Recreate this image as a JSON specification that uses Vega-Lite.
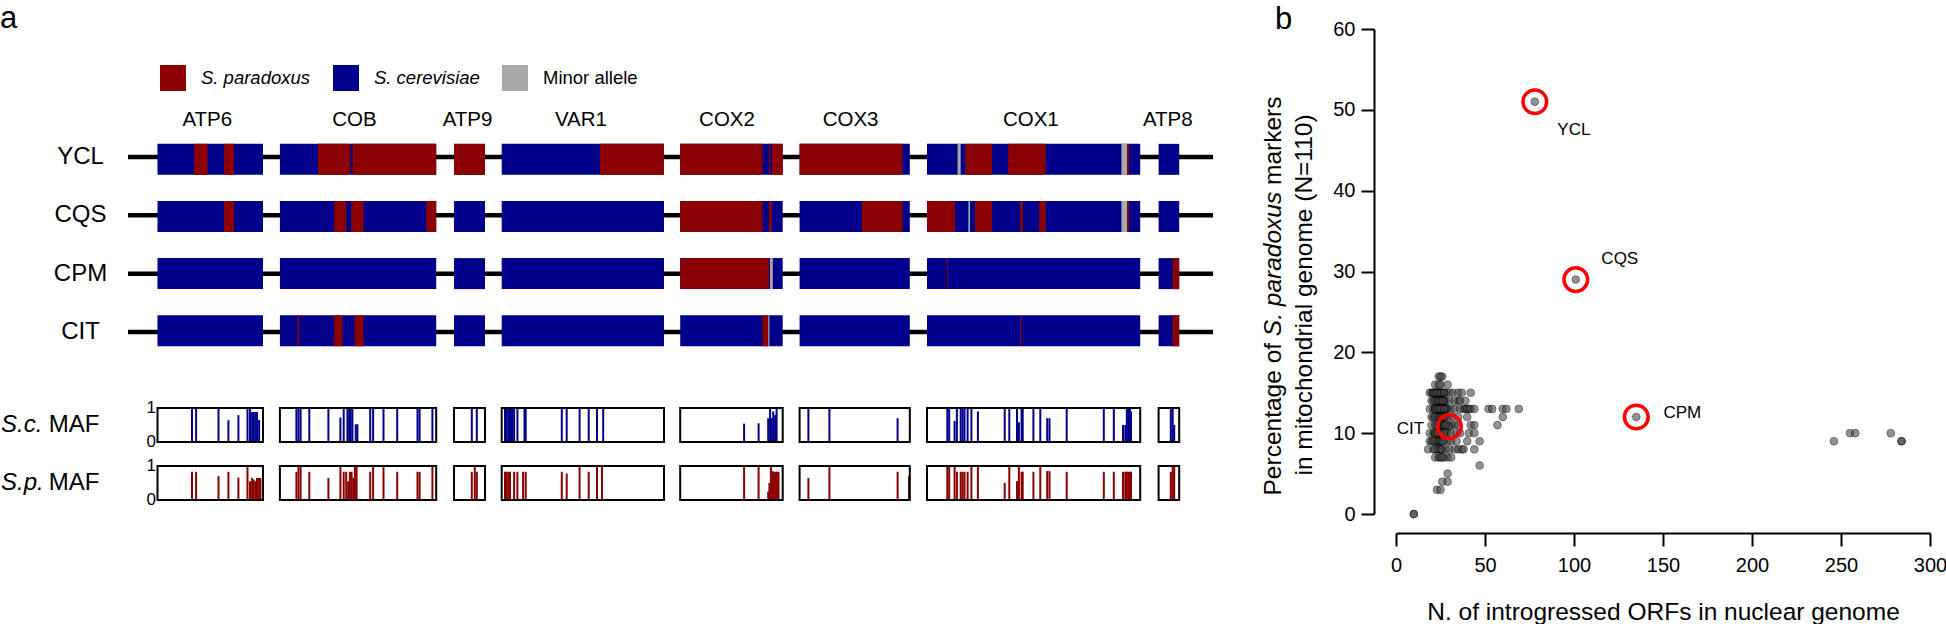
{
  "$schema": "https://vega.github.io/schema/vega-lite/v6.json",
  "padding": {"left": 0, "top": 3, "right": 0, "bottom": 0},
  "background": "white",
  "bounds": "flush",
  "spacing": 156,
  "config": {
    "font": "Liberation Sans",
    "view": {"stroke": null},
    "text": {"font": "Liberation Sans", "color": "black"}
  },
  "datasets": {
    "strains": [
      {"strain": "YCL", "row": 0}, {"strain": "CQS", "row": 1}, {"strain": "CPM", "row": 2}, {"strain": "CIT", "row": 3}
    ],
    "genes": [
      {"gene": "ATP6", "start": 2.95, "end": 13.5, "mid": 7.93},
      {"gene": "COB", "start": 15.19, "end": 30.82, "mid": 22.65},
      {"gene": "ATP9", "start": 32.6, "end": 35.7, "mid": 33.95},
      {"gene": "VAR1", "start": 37.37, "end": 53.6, "mid": 45.29},
      {"gene": "COX2", "start": 55.22, "end": 65.47, "mid": 59.9},
      {"gene": "COX3", "start": 67.16, "end": 78.18, "mid": 72.26},
      {"gene": "COX1", "start": 79.9, "end": 101.22, "mid": 90.28},
      {"gene": "ATP8", "start": 103.06, "end": 105.12, "mid": 103.98}
    ],
    "base": [
      {"row": 0, "start": 2.95, "end": 13.5}, {"row": 0, "start": 15.19, "end": 30.82}, {"row": 0, "start": 32.6, "end": 35.7}, {"row": 0, "start": 37.37, "end": 53.6},
      {"row": 0, "start": 55.22, "end": 65.47}, {"row": 0, "start": 67.16, "end": 78.18}, {"row": 0, "start": 79.9, "end": 101.22}, {"row": 0, "start": 103.06, "end": 105.12},
      {"row": 1, "start": 2.95, "end": 13.5}, {"row": 1, "start": 15.19, "end": 30.82}, {"row": 1, "start": 32.6, "end": 35.7}, {"row": 1, "start": 37.37, "end": 53.6},
      {"row": 1, "start": 55.22, "end": 65.47}, {"row": 1, "start": 67.16, "end": 78.18}, {"row": 1, "start": 79.9, "end": 101.22}, {"row": 1, "start": 103.06, "end": 105.12},
      {"row": 2, "start": 2.95, "end": 13.5}, {"row": 2, "start": 15.19, "end": 30.82}, {"row": 2, "start": 32.6, "end": 35.7}, {"row": 2, "start": 37.37, "end": 53.6},
      {"row": 2, "start": 55.22, "end": 65.47}, {"row": 2, "start": 67.16, "end": 78.18}, {"row": 2, "start": 79.9, "end": 101.22}, {"row": 2, "start": 103.06, "end": 105.12},
      {"row": 3, "start": 2.95, "end": 13.5}, {"row": 3, "start": 15.19, "end": 30.82}, {"row": 3, "start": 32.6, "end": 35.7}, {"row": 3, "start": 37.37, "end": 53.6},
      {"row": 3, "start": 55.22, "end": 65.47}, {"row": 3, "start": 67.16, "end": 78.18}, {"row": 3, "start": 79.9, "end": 101.22}, {"row": 3, "start": 103.06, "end": 105.12}
    ],
    "segments": [
      {"row": 0, "start": 6.6, "end": 7.97, "allele": "S. paradoxus"},
      {"row": 0, "start": 9.6, "end": 10.6, "allele": "S. paradoxus"},
      {"row": 0, "start": 19.0, "end": 22.23, "allele": "S. paradoxus"},
      {"row": 0, "start": 22.44, "end": 30.82, "allele": "S. paradoxus"},
      {"row": 0, "start": 32.6, "end": 35.7, "allele": "S. paradoxus"},
      {"row": 0, "start": 47.2, "end": 53.6, "allele": "S. paradoxus"},
      {"row": 0, "start": 55.22, "end": 63.45, "allele": "S. paradoxus"},
      {"row": 0, "start": 64.1, "end": 64.25, "allele": "S. paradoxus"},
      {"row": 0, "start": 64.4, "end": 65.47, "allele": "S. paradoxus"},
      {"row": 0, "start": 67.16, "end": 77.45, "allele": "S. paradoxus"},
      {"row": 0, "start": 82.96, "end": 83.27, "allele": "Minor allele"},
      {"row": 0, "start": 83.73, "end": 86.41, "allele": "S. paradoxus"},
      {"row": 0, "start": 88.02, "end": 91.77, "allele": "S. paradoxus"},
      {"row": 0, "start": 99.34, "end": 99.92, "allele": "Minor allele"},
      {"row": 0, "start": 99.92, "end": 100.11, "allele": "S. paradoxus"},
      {"row": 1, "start": 9.6, "end": 10.6, "allele": "S. paradoxus"},
      {"row": 1, "start": 20.62, "end": 21.82, "allele": "S. paradoxus"},
      {"row": 1, "start": 22.32, "end": 23.56, "allele": "S. paradoxus"},
      {"row": 1, "start": 29.82, "end": 30.82, "allele": "S. paradoxus"},
      {"row": 1, "start": 55.22, "end": 63.45, "allele": "S. paradoxus"},
      {"row": 1, "start": 64.1, "end": 64.4, "allele": "S. paradoxus"},
      {"row": 1, "start": 73.4, "end": 77.45, "allele": "S. paradoxus"},
      {"row": 1, "start": 79.9, "end": 82.7, "allele": "S. paradoxus"},
      {"row": 1, "start": 84.04, "end": 84.2, "allele": "Minor allele"},
      {"row": 1, "start": 84.69, "end": 86.41, "allele": "S. paradoxus"},
      {"row": 1, "start": 89.2, "end": 89.47, "allele": "S. paradoxus"},
      {"row": 1, "start": 91.12, "end": 91.77, "allele": "S. paradoxus"},
      {"row": 1, "start": 99.34, "end": 99.92, "allele": "Minor allele"},
      {"row": 1, "start": 99.92, "end": 100.11, "allele": "S. paradoxus"},
      {"row": 2, "start": 55.22, "end": 64.1, "allele": "S. paradoxus"},
      {"row": 2, "start": 64.2, "end": 64.48, "allele": "Minor allele"},
      {"row": 2, "start": 81.89, "end": 82.0, "allele": "S. paradoxus"},
      {"row": 2, "start": 104.47, "end": 105.12, "allele": "S. paradoxus"},
      {"row": 3, "start": 16.97, "end": 17.13, "allele": "S. paradoxus"},
      {"row": 3, "start": 20.62, "end": 21.45, "allele": "S. paradoxus"},
      {"row": 3, "start": 22.65, "end": 23.56, "allele": "S. paradoxus"},
      {"row": 3, "start": 63.45, "end": 64.02, "allele": "S. paradoxus"},
      {"row": 3, "start": 64.02, "end": 64.14, "allele": "Minor allele"},
      {"row": 3, "start": 89.2, "end": 89.32, "allele": "S. paradoxus"},
      {"row": 3, "start": 104.47, "end": 105.12, "allele": "S. paradoxus"}
    ],
    "maf_sc": [
      {"pos": 6.4, "maf": 1}, {"pos": 6.81, "maf": 1}, {"pos": 9.05, "maf": 1}, {"pos": 10.04, "maf": 0.64}, {"pos": 11.04, "maf": 0.79}, {"pos": 11.95, "maf": 1},
      {"pos": 12.2, "maf": 1}, {"pos": 12.41, "maf": 0.88}, {"pos": 12.57, "maf": 0.88}, {"pos": 12.74, "maf": 0.88}, {"pos": 12.9, "maf": 0.88}, {"pos": 13.11, "maf": 0.65},
      {"pos": 16.84, "maf": 1}, {"pos": 17.05, "maf": 1}, {"pos": 17.26, "maf": 1}, {"pos": 18.13, "maf": 1}, {"pos": 20.04, "maf": 1}, {"pos": 21.24, "maf": 0.72},
      {"pos": 21.57, "maf": 1}, {"pos": 21.94, "maf": 1}, {"pos": 22.11, "maf": 1}, {"pos": 22.27, "maf": 1}, {"pos": 22.44, "maf": 1}, {"pos": 22.77, "maf": 0.52},
      {"pos": 22.94, "maf": 0.52}, {"pos": 24.22, "maf": 1}, {"pos": 24.51, "maf": 1}, {"pos": 25.55, "maf": 1}, {"pos": 26.92, "maf": 1}, {"pos": 28.95, "maf": 1},
      {"pos": 29.16, "maf": 1}, {"pos": 30.44, "maf": 1},
      {"pos": 34.38, "maf": 1}, {"pos": 34.88, "maf": 1},
      {"pos": 37.7, "maf": 1}, {"pos": 37.86, "maf": 1}, {"pos": 38.03, "maf": 1}, {"pos": 38.2, "maf": 1}, {"pos": 38.4, "maf": 1}, {"pos": 38.61, "maf": 1},
      {"pos": 38.94, "maf": 1}, {"pos": 39.65, "maf": 1}, {"pos": 39.77, "maf": 1}, {"pos": 43.38, "maf": 1}, {"pos": 43.87, "maf": 1}, {"pos": 45.16, "maf": 1},
      {"pos": 46.07, "maf": 1}, {"pos": 46.9, "maf": 1}, {"pos": 47.52, "maf": 1},
      {"pos": 61.61, "maf": 0.54}, {"pos": 63.06, "maf": 0.55}, {"pos": 64.02, "maf": 0.7}, {"pos": 64.21, "maf": 1}, {"pos": 64.36, "maf": 0.7}, {"pos": 64.52, "maf": 0.9},
      {"pos": 64.71, "maf": 0.8}, {"pos": 64.86, "maf": 1},
      {"pos": 68.04, "maf": 1}, {"pos": 70.14, "maf": 1}, {"pos": 76.96, "maf": 0.7},
      {"pos": 81.93, "maf": 1}, {"pos": 82.12, "maf": 1}, {"pos": 82.66, "maf": 0.62}, {"pos": 82.89, "maf": 1}, {"pos": 83.27, "maf": 1}, {"pos": 83.46, "maf": 1},
      {"pos": 83.65, "maf": 1}, {"pos": 83.96, "maf": 1}, {"pos": 84.34, "maf": 1}, {"pos": 84.99, "maf": 0.9}, {"pos": 87.67, "maf": 1}, {"pos": 88.13, "maf": 1},
      {"pos": 88.9, "maf": 1}, {"pos": 89.09, "maf": 0.58}, {"pos": 89.36, "maf": 1}, {"pos": 89.47, "maf": 1}, {"pos": 90.54, "maf": 1}, {"pos": 91.23, "maf": 1},
      {"pos": 91.92, "maf": 0.7}, {"pos": 92.15, "maf": 0.7}, {"pos": 93.87, "maf": 1}, {"pos": 97.58, "maf": 1}, {"pos": 98.58, "maf": 1}, {"pos": 99.5, "maf": 0.5},
      {"pos": 99.73, "maf": 0.5}, {"pos": 99.88, "maf": 1}, {"pos": 100.03, "maf": 1}, {"pos": 100.19, "maf": 1}, {"pos": 100.3, "maf": 0.9},
      {"pos": 104.28, "maf": 1}, {"pos": 104.47, "maf": 1}, {"pos": 104.62, "maf": 0.5}
    ],
    "maf_sp": [
      {"pos": 6.4, "maf": 0.83}, {"pos": 6.81, "maf": 0.83}, {"pos": 9.05, "maf": 0.7}, {"pos": 10.04, "maf": 0.83}, {"pos": 11.04, "maf": 0.66}, {"pos": 11.95, "maf": 1},
      {"pos": 12.2, "maf": 0.55}, {"pos": 12.41, "maf": 0.65}, {"pos": 12.57, "maf": 0.6}, {"pos": 12.74, "maf": 0.55}, {"pos": 12.9, "maf": 0.65}, {"pos": 13.11, "maf": 0.65},
      {"pos": 13.24, "maf": 0.65},
      {"pos": 16.84, "maf": 0.83}, {"pos": 17.05, "maf": 1}, {"pos": 17.26, "maf": 1}, {"pos": 18.13, "maf": 0.83}, {"pos": 20.04, "maf": 0.65}, {"pos": 21.24, "maf": 1},
      {"pos": 21.57, "maf": 0.83}, {"pos": 21.82, "maf": 0.83}, {"pos": 22.02, "maf": 0.55}, {"pos": 22.19, "maf": 0.83}, {"pos": 22.36, "maf": 0.83}, {"pos": 22.53, "maf": 0.65},
      {"pos": 22.69, "maf": 1}, {"pos": 22.86, "maf": 1}, {"pos": 24.22, "maf": 0.83}, {"pos": 24.51, "maf": 1}, {"pos": 25.55, "maf": 1}, {"pos": 26.92, "maf": 0.83},
      {"pos": 28.95, "maf": 0.83}, {"pos": 29.16, "maf": 0.83}, {"pos": 30.44, "maf": 1},
      {"pos": 34.38, "maf": 0.83}, {"pos": 34.68, "maf": 1}, {"pos": 34.88, "maf": 0.83},
      {"pos": 37.7, "maf": 0.83}, {"pos": 37.86, "maf": 0.83}, {"pos": 38.03, "maf": 0.83}, {"pos": 38.2, "maf": 0.83}, {"pos": 38.61, "maf": 0.83}, {"pos": 38.94, "maf": 0.83},
      {"pos": 39.51, "maf": 0.83}, {"pos": 39.77, "maf": 0.83}, {"pos": 43.38, "maf": 0.83}, {"pos": 43.87, "maf": 0.78}, {"pos": 45.16, "maf": 1}, {"pos": 46.07, "maf": 0.83},
      {"pos": 46.9, "maf": 1}, {"pos": 47.4, "maf": 1},
      {"pos": 61.61, "maf": 1}, {"pos": 63.06, "maf": 1}, {"pos": 64.02, "maf": 0.25}, {"pos": 64.14, "maf": 0.5}, {"pos": 64.29, "maf": 1}, {"pos": 64.44, "maf": 0.85},
      {"pos": 64.59, "maf": 0.83}, {"pos": 64.75, "maf": 0.83}, {"pos": 64.9, "maf": 0.83}, {"pos": 65.05, "maf": 0.83},
      {"pos": 68.04, "maf": 0.65}, {"pos": 70.14, "maf": 1}, {"pos": 76.96, "maf": 0.83}, {"pos": 78.1, "maf": 0.7},
      {"pos": 81.93, "maf": 1}, {"pos": 82.12, "maf": 1}, {"pos": 82.66, "maf": 1}, {"pos": 82.89, "maf": 0.83}, {"pos": 83.27, "maf": 0.83}, {"pos": 83.46, "maf": 0.83},
      {"pos": 83.65, "maf": 0.83}, {"pos": 83.96, "maf": 0.83}, {"pos": 84.34, "maf": 1}, {"pos": 84.99, "maf": 1}, {"pos": 87.67, "maf": 0.5}, {"pos": 88.13, "maf": 1},
      {"pos": 88.9, "maf": 0.55}, {"pos": 89.09, "maf": 1}, {"pos": 89.36, "maf": 0.83}, {"pos": 89.47, "maf": 0.83}, {"pos": 90.54, "maf": 0.83}, {"pos": 91.23, "maf": 1},
      {"pos": 91.92, "maf": 0.85}, {"pos": 92.15, "maf": 0.85}, {"pos": 93.87, "maf": 0.83}, {"pos": 97.58, "maf": 0.83}, {"pos": 98.58, "maf": 0.83}, {"pos": 99.5, "maf": 0.83},
      {"pos": 99.73, "maf": 0.83}, {"pos": 99.88, "maf": 0.83}, {"pos": 100.03, "maf": 0.83}, {"pos": 100.19, "maf": 0.83}, {"pos": 100.3, "maf": 0.83},
      {"pos": 104.28, "maf": 0.83}, {"pos": 104.47, "maf": 1}, {"pos": 104.62, "maf": 1}
    ],
    "ticks01": [{"v": 0}, {"v": 1}],
    "points": [
      {"orfs": 24, "pct": 17}, {"orfs": 26, "pct": 17}, {"orfs": 25, "pct": 17},
      {"orfs": 22, "pct": 16}, {"orfs": 25, "pct": 16}, {"orfs": 29, "pct": 16}, {"orfs": 24, "pct": 16},
      {"orfs": 19, "pct": 15}, {"orfs": 20, "pct": 15}, {"orfs": 21, "pct": 15}, {"orfs": 22, "pct": 15}, {"orfs": 23, "pct": 15}, {"orfs": 24, "pct": 15},
      {"orfs": 25, "pct": 15}, {"orfs": 26, "pct": 15}, {"orfs": 27, "pct": 15}, {"orfs": 28, "pct": 15}, {"orfs": 30, "pct": 15}, {"orfs": 32, "pct": 15},
      {"orfs": 35, "pct": 15}, {"orfs": 37, "pct": 15}, {"orfs": 42, "pct": 15}, {"orfs": 22, "pct": 15}, {"orfs": 24, "pct": 15}, {"orfs": 26, "pct": 15},
      {"orfs": 21, "pct": 15}, {"orfs": 23, "pct": 15}, {"orfs": 25, "pct": 15}, {"orfs": 27, "pct": 15},
      {"orfs": 20, "pct": 14}, {"orfs": 21, "pct": 14}, {"orfs": 23, "pct": 14}, {"orfs": 24, "pct": 14}, {"orfs": 25, "pct": 14}, {"orfs": 26, "pct": 14},
      {"orfs": 27, "pct": 14}, {"orfs": 28, "pct": 14}, {"orfs": 30, "pct": 14}, {"orfs": 33, "pct": 14}, {"orfs": 35, "pct": 14}, {"orfs": 36, "pct": 14},
      {"orfs": 39, "pct": 14}, {"orfs": 23, "pct": 14}, {"orfs": 25, "pct": 14}, {"orfs": 27, "pct": 14}, {"orfs": 22, "pct": 14}, {"orfs": 24, "pct": 14}, {"orfs": 26, "pct": 14},
      {"orfs": 19, "pct": 13}, {"orfs": 21, "pct": 13}, {"orfs": 22, "pct": 13}, {"orfs": 23, "pct": 13}, {"orfs": 24, "pct": 13}, {"orfs": 25, "pct": 13},
      {"orfs": 26, "pct": 13}, {"orfs": 27, "pct": 13}, {"orfs": 28, "pct": 13}, {"orfs": 29, "pct": 13}, {"orfs": 31, "pct": 13}, {"orfs": 33, "pct": 13},
      {"orfs": 36, "pct": 13}, {"orfs": 38, "pct": 13}, {"orfs": 39, "pct": 13}, {"orfs": 40, "pct": 13}, {"orfs": 41, "pct": 13}, {"orfs": 42, "pct": 13},
      {"orfs": 44, "pct": 13}, {"orfs": 52, "pct": 13}, {"orfs": 54, "pct": 13}, {"orfs": 60, "pct": 13}, {"orfs": 62, "pct": 13}, {"orfs": 69, "pct": 13},
      {"orfs": 22, "pct": 13}, {"orfs": 24, "pct": 13}, {"orfs": 26, "pct": 13}, {"orfs": 28, "pct": 13}, {"orfs": 23, "pct": 13}, {"orfs": 25, "pct": 13}, {"orfs": 27, "pct": 13},
      {"orfs": 20, "pct": 12}, {"orfs": 21, "pct": 12}, {"orfs": 23, "pct": 12}, {"orfs": 24, "pct": 12}, {"orfs": 25, "pct": 12}, {"orfs": 26, "pct": 12},
      {"orfs": 28, "pct": 12}, {"orfs": 30, "pct": 12}, {"orfs": 32, "pct": 12}, {"orfs": 35, "pct": 12}, {"orfs": 40, "pct": 12}, {"orfs": 60, "pct": 12},
      {"orfs": 24, "pct": 12}, {"orfs": 26, "pct": 12}, {"orfs": 22, "pct": 12}, {"orfs": 25, "pct": 12}, {"orfs": 27, "pct": 12},
      {"orfs": 20, "pct": 11}, {"orfs": 22, "pct": 11}, {"orfs": 24, "pct": 11}, {"orfs": 25, "pct": 11}, {"orfs": 26, "pct": 11}, {"orfs": 27, "pct": 11},
      {"orfs": 29, "pct": 11}, {"orfs": 31, "pct": 11}, {"orfs": 33, "pct": 11}, {"orfs": 35, "pct": 11}, {"orfs": 42, "pct": 11}, {"orfs": 44, "pct": 11},
      {"orfs": 57, "pct": 11}, {"orfs": 25, "pct": 11}, {"orfs": 27, "pct": 11}, {"orfs": 30, "pct": 10.8}, {"orfs": 23, "pct": 11}, {"orfs": 28, "pct": 11},
      {"orfs": 19, "pct": 10}, {"orfs": 21, "pct": 10}, {"orfs": 22, "pct": 10}, {"orfs": 24, "pct": 10}, {"orfs": 25, "pct": 10}, {"orfs": 26, "pct": 10},
      {"orfs": 28, "pct": 10}, {"orfs": 29, "pct": 10}, {"orfs": 31, "pct": 10}, {"orfs": 34, "pct": 10}, {"orfs": 36, "pct": 10}, {"orfs": 41, "pct": 10},
      {"orfs": 44, "pct": 10}, {"orfs": 22, "pct": 10}, {"orfs": 25, "pct": 10}, {"orfs": 23, "pct": 10}, {"orfs": 27, "pct": 10},
      {"orfs": 19, "pct": 9}, {"orfs": 20, "pct": 9}, {"orfs": 22, "pct": 9}, {"orfs": 23, "pct": 9}, {"orfs": 24, "pct": 9}, {"orfs": 25, "pct": 9},
      {"orfs": 27, "pct": 9}, {"orfs": 29, "pct": 9}, {"orfs": 31, "pct": 9}, {"orfs": 34, "pct": 9}, {"orfs": 40, "pct": 9}, {"orfs": 47, "pct": 9},
      {"orfs": 24, "pct": 9}, {"orfs": 21, "pct": 9}, {"orfs": 26, "pct": 9},
      {"orfs": 18, "pct": 8}, {"orfs": 21, "pct": 8}, {"orfs": 23, "pct": 8}, {"orfs": 24, "pct": 8}, {"orfs": 25, "pct": 8}, {"orfs": 26, "pct": 8},
      {"orfs": 28, "pct": 8}, {"orfs": 30, "pct": 8}, {"orfs": 33, "pct": 8}, {"orfs": 35, "pct": 8}, {"orfs": 37, "pct": 8}, {"orfs": 38, "pct": 8},
      {"orfs": 44, "pct": 8}, {"orfs": 25, "pct": 8}, {"orfs": 22, "pct": 8},
      {"orfs": 22, "pct": 7}, {"orfs": 24, "pct": 7}, {"orfs": 25, "pct": 7}, {"orfs": 27, "pct": 7}, {"orfs": 29, "pct": 7}, {"orfs": 31, "pct": 7}, {"orfs": 26, "pct": 7},
      {"orfs": 47, "pct": 6}, {"orfs": 29, "pct": 5}, {"orfs": 26, "pct": 4}, {"orfs": 29, "pct": 4}, {"orfs": 23, "pct": 3}, {"orfs": 25, "pct": 3},
      {"orfs": 10, "pct": 0}, {"orfs": 10, "pct": 0},
      {"orfs": 78, "pct": 51}, {"orfs": 101, "pct": 29}, {"orfs": 135, "pct": 12},
      {"orfs": 246, "pct": 9}, {"orfs": 255, "pct": 10}, {"orfs": 258, "pct": 10}, {"orfs": 278, "pct": 10}, {"orfs": 284, "pct": 9}, {"orfs": 284, "pct": 9}
    ],
    "highlight": [
      {"strain": "YCL", "orfs": 78, "pct": 51},
      {"strain": "CQS", "orfs": 101, "pct": 29},
      {"strain": "CPM", "orfs": 135, "pct": 12},
      {"strain": "CIT", "orfs": 30, "pct": 10.8}
    ]
  },
  "hconcat": [
    {
      "width": 1240,
      "height": 485,
      "resolve": {"scale": {"y": "independent"}},
      "layer": [
        {
          "data": {"name": "strains"},
          "mark": {"type": "rule", "strokeWidth": 4.5, "color": "black"},
          "encoding": {
            "x": {"datum": 0, "type": "quantitative", "scale": {"domain": [-12.8, 111.2], "nice": false, "zero": false}, "axis": null},
            "x2": {"datum": 108.5},
            "y": {"field": "row", "type": "quantitative", "scale": {"domain": [-2.194, 6.12], "reverse": true, "nice": false, "zero": false}, "axis": null}
          }
        },
        {
          "data": {"name": "base"},
          "mark": {"type": "bar", "orient": "horizontal", "size": 31},
          "encoding": {
            "x": {"field": "start", "type": "quantitative", "scale": {"domain": [-12.8, 111.2], "nice": false, "zero": false}, "axis": null},
            "x2": {"field": "end"},
            "y": {"field": "row", "type": "quantitative", "scale": {"domain": [-2.194, 6.12], "reverse": true, "nice": false, "zero": false}, "axis": null},
            "color": {
              "datum": "S. cerevisiae", "type": "nominal",
              "scale": {"domain": ["S. paradoxus", "S. cerevisiae", "Minor allele"], "range": ["#8b0000", "#00008b", "#a9a9a9"]},
              "legend": {"orient": "none", "legendX": 160, "legendY": 36, "direction": "horizontal", "title": null, "symbolType": "square", "symbolSize": 676, "symbolStrokeWidth": 0, "symbolOpacity": 1, "labelFontSize": 18.5, "labelFont": "Liberation Sans", "labelColor": "black", "labelOffset": 15, "columnPadding": 22, "padding": 0, "labelLimit": 0, "labelFontStyle": {"expr": "datum.label == 'Minor allele' ? 'normal' : 'italic'"}}
            }
          }
        },
        {
          "data": {"name": "segments"},
          "mark": {"type": "bar", "orient": "horizontal", "size": 31},
          "encoding": {
            "x": {"field": "start", "type": "quantitative", "scale": {"domain": [-12.8, 111.2], "nice": false, "zero": false}, "axis": null},
            "x2": {"field": "end"},
            "y": {"field": "row", "type": "quantitative", "scale": {"domain": [-2.194, 6.12], "reverse": true, "nice": false, "zero": false}, "axis": null},
            "color": {
              "field": "allele", "type": "nominal",
              "scale": {"domain": ["S. paradoxus", "S. cerevisiae", "Minor allele"], "range": ["#8b0000", "#00008b", "#a9a9a9"]},
              "legend": {"orient": "none", "legendX": 160, "legendY": 36, "direction": "horizontal", "title": null, "symbolType": "square", "symbolSize": 676, "symbolStrokeWidth": 0, "symbolOpacity": 1, "labelFontSize": 18.5, "labelFont": "Liberation Sans", "labelColor": "black", "labelOffset": 15, "columnPadding": 22, "padding": 0, "labelLimit": 0, "labelFontStyle": {"expr": "datum.label == 'Minor allele' ? 'normal' : 'italic'"}}
            }
          }
        },
        {
          "data": {"name": "strains"},
          "mark": {"type": "text", "fontSize": 24, "align": "center", "baseline": "middle"},
          "encoding": {
            "x": {"datum": -4.75, "type": "quantitative", "scale": {"domain": [-12.8, 111.2], "nice": false, "zero": false}, "axis": null},
            "y": {"field": "row", "type": "quantitative", "scale": {"domain": [-2.194, 6.12], "reverse": true, "nice": false, "zero": false}, "axis": null},
            "text": {"field": "strain"}
          }
        },
        {
          "data": {"name": "genes"},
          "mark": {"type": "text", "fontSize": 20.5, "align": "center", "baseline": "middle"},
          "encoding": {
            "x": {"field": "mid", "type": "quantitative", "scale": {"domain": [-12.8, 111.2], "nice": false, "zero": false}, "axis": null},
            "y": {"datum": -0.634, "type": "quantitative", "scale": {"domain": [-2.194, 6.12], "reverse": true, "nice": false, "zero": false}, "axis": null},
            "text": {"field": "gene"}
          }
        },
        {
          "data": {"values": [{"panel": "a"}]},
          "mark": {"type": "text", "fontSize": 31, "align": "left", "baseline": "alphabetic"},
          "encoding": {
            "x": {"datum": -12.8, "type": "quantitative", "scale": {"domain": [-12.8, 111.2], "nice": false, "zero": false}, "axis": null},
            "y": {"datum": -2.203, "type": "quantitative", "scale": {"domain": [-2.194, 6.12], "reverse": true, "nice": false, "zero": false}, "axis": null},
            "text": {"field": "panel"}
          }
        },
        {
          "layer": [
            {
              "data": {"name": "maf_sc"},
              "mark": {"type": "rule", "strokeWidth": 2, "color": "#00008b"},
              "encoding": {
                "x": {"field": "pos", "type": "quantitative", "scale": {"domain": [-12.8, 111.2], "nice": false, "zero": false}, "axis": null},
                "y": {"field": "maf", "type": "quantitative", "scale": {"domain": [-2.1176, 12.147], "nice": false, "zero": false}, "axis": null},
                "y2": {"datum": 0}
              }
            },
            {
              "data": {"name": "genes"},
              "mark": {"type": "rect", "filled": false, "stroke": "black", "strokeWidth": 2},
              "encoding": {
                "x": {"field": "start", "type": "quantitative", "scale": {"domain": [-12.8, 111.2], "nice": false, "zero": false}, "axis": null},
                "x2": {"field": "end"},
                "y": {"datum": 0, "type": "quantitative", "scale": {"domain": [-2.1176, 12.147], "nice": false, "zero": false}, "axis": null},
                "y2": {"datum": 1}
              }
            },
            {
              "data": {"name": "ticks01"},
              "mark": {"type": "text", "fontSize": 17, "align": "right", "baseline": "middle"},
              "encoding": {
                "x": {"datum": 2.8, "type": "quantitative", "scale": {"domain": [-12.8, 111.2], "nice": false, "zero": false}, "axis": null},
                "y": {"field": "v", "type": "quantitative", "scale": {"domain": [-2.1176, 12.147], "nice": false, "zero": false}, "axis": null},
                "text": {"field": "v"}
              }
            },
            {
              "data": {"values": [{"label": "S.c."}]},
              "mark": {"type": "text", "fontSize": 24, "fontStyle": "italic", "align": "left", "baseline": "middle"},
              "encoding": {
                "x": {"datum": -12.7, "type": "quantitative", "scale": {"domain": [-12.8, 111.2], "nice": false, "zero": false}, "axis": null},
                "y": {"datum": 0.5, "type": "quantitative", "scale": {"domain": [-2.1176, 12.147], "nice": false, "zero": false}, "axis": null},
                "text": {"field": "label"}
              }
            },
            {
              "data": {"values": [{"label": "MAF"}]},
              "mark": {"type": "text", "fontSize": 24, "align": "right", "baseline": "middle"},
              "encoding": {
                "x": {"datum": -2.85, "type": "quantitative", "scale": {"domain": [-12.8, 111.2], "nice": false, "zero": false}, "axis": null},
                "y": {"datum": 0.5, "type": "quantitative", "scale": {"domain": [-2.1176, 12.147], "nice": false, "zero": false}, "axis": null},
                "text": {"field": "label"}
              }
            }
          ]
        },
        {
          "layer": [
            {
              "data": {"name": "maf_sp"},
              "mark": {"type": "rule", "strokeWidth": 2, "color": "#8b0000"},
              "encoding": {
                "x": {"field": "pos", "type": "quantitative", "scale": {"domain": [-12.8, 111.2], "nice": false, "zero": false}, "axis": null},
                "y": {"field": "maf", "type": "quantitative", "scale": {"domain": [-0.4118, 13.853], "nice": false, "zero": false}, "axis": null},
                "y2": {"datum": 0}
              }
            },
            {
              "data": {"name": "genes"},
              "mark": {"type": "rect", "filled": false, "stroke": "black", "strokeWidth": 2},
              "encoding": {
                "x": {"field": "start", "type": "quantitative", "scale": {"domain": [-12.8, 111.2], "nice": false, "zero": false}, "axis": null},
                "x2": {"field": "end"},
                "y": {"datum": 0, "type": "quantitative", "scale": {"domain": [-0.4118, 13.853], "nice": false, "zero": false}, "axis": null},
                "y2": {"datum": 1}
              }
            },
            {
              "data": {"name": "ticks01"},
              "mark": {"type": "text", "fontSize": 17, "align": "right", "baseline": "middle"},
              "encoding": {
                "x": {"datum": 2.8, "type": "quantitative", "scale": {"domain": [-12.8, 111.2], "nice": false, "zero": false}, "axis": null},
                "y": {"field": "v", "type": "quantitative", "scale": {"domain": [-0.4118, 13.853], "nice": false, "zero": false}, "axis": null},
                "text": {"field": "v"}
              }
            },
            {
              "data": {"values": [{"label": "S.p."}]},
              "mark": {"type": "text", "fontSize": 24, "fontStyle": "italic", "align": "left", "baseline": "middle"},
              "encoding": {
                "x": {"datum": -12.7, "type": "quantitative", "scale": {"domain": [-12.8, 111.2], "nice": false, "zero": false}, "axis": null},
                "y": {"datum": 0.5, "type": "quantitative", "scale": {"domain": [-0.4118, 13.853], "nice": false, "zero": false}, "axis": null},
                "text": {"field": "label"}
              }
            },
            {
              "data": {"values": [{"label": "MAF"}]},
              "mark": {"type": "text", "fontSize": 24, "align": "right", "baseline": "middle"},
              "encoding": {
                "x": {"datum": -2.85, "type": "quantitative", "scale": {"domain": [-12.8, 111.2], "nice": false, "zero": false}, "axis": null},
                "y": {"datum": 0.5, "type": "quantitative", "scale": {"domain": [-0.4118, 13.853], "nice": false, "zero": false}, "axis": null},
                "text": {"field": "label"}
              }
            }
          ]
        }
      ]
    },
    {
      "width": 534,
      "height": 485,
      "resolve": {"axis": {"x": "independent", "y": "independent"}},
      "layer": [
        {
          "data": {"name": "points"},
          "mark": {"type": "circle", "size": 58, "color": "#444444", "opacity": 0.58, "stroke": "black", "strokeWidth": 1},
          "encoding": {
            "x": {
              "field": "orfs", "type": "quantitative", "scale": {"domain": [0, 300], "nice": false, "zero": false},
              "axis": {"orient": "bottom", "offset": 19, "values": [0, 50, 100, 150, 200, 250, 300], "title": "N. of introgressed ORFs in nuclear genome", "titleFont": "Liberation Sans", "titleFontSize": 24.5, "titleFontWeight": "normal", "titleColor": "black", "titlePadding": 25, "labelFont": "Liberation Sans", "labelFontSize": 20, "labelColor": "black", "labelPadding": 9, "labelFlush": false, "labelOverlap": false, "tickSize": 13, "tickWidth": 2, "tickColor": "black", "domainWidth": 2, "domainColor": "black", "grid": false}
            },
            "y": {
              "field": "pct", "type": "quantitative", "scale": {"domain": [0, 60], "nice": false, "zero": false},
              "axis": {"orient": "left", "offset": 22, "values": [0, 10, 20, 30, 40, 50, 60], "title": null, "labelFont": "Liberation Sans", "labelFontSize": 20, "labelColor": "black", "labelPadding": 6, "labelFlush": false, "labelOverlap": false, "tickSize": 13, "tickWidth": 2, "tickColor": "black", "domainWidth": 2, "domainColor": "black", "grid": false}
            }
          }
        },
        {
          "data": {"name": "highlight"},
          "mark": {"type": "point", "shape": "circle", "size": 560, "filled": false, "stroke": "#ff0000", "strokeWidth": 3.5, "opacity": 1},
          "encoding": {
            "x": {"field": "orfs", "type": "quantitative", "scale": {"domain": [0, 300], "nice": false, "zero": false}, "axis": null},
            "y": {"field": "pct", "type": "quantitative", "scale": {"domain": [0, 60], "nice": false, "zero": false}, "axis": null}
          }
        },
        {
          "data": {"name": "highlight"},
          "transform": [{"filter": "datum.strain == 'YCL'"}],
          "mark": {"type": "text", "fontSize": 17, "align": "center", "baseline": "middle", "dx": 39, "dy": 28},
          "encoding": {
            "x": {"field": "orfs", "type": "quantitative", "scale": {"domain": [0, 300], "nice": false, "zero": false}, "axis": null},
            "y": {"field": "pct", "type": "quantitative", "scale": {"domain": [0, 60], "nice": false, "zero": false}, "axis": null},
            "text": {"field": "strain"}
          }
        },
        {
          "data": {"name": "highlight"},
          "transform": [{"filter": "datum.strain == 'CQS'"}],
          "mark": {"type": "text", "fontSize": 17, "align": "center", "baseline": "middle", "dx": 44, "dy": -21},
          "encoding": {
            "x": {"field": "orfs", "type": "quantitative", "scale": {"domain": [0, 300], "nice": false, "zero": false}, "axis": null},
            "y": {"field": "pct", "type": "quantitative", "scale": {"domain": [0, 60], "nice": false, "zero": false}, "axis": null},
            "text": {"field": "strain"}
          }
        },
        {
          "data": {"name": "highlight"},
          "transform": [{"filter": "datum.strain == 'CPM'"}],
          "mark": {"type": "text", "fontSize": 17, "align": "center", "baseline": "middle", "dx": 46, "dy": -4},
          "encoding": {
            "x": {"field": "orfs", "type": "quantitative", "scale": {"domain": [0, 300], "nice": false, "zero": false}, "axis": null},
            "y": {"field": "pct", "type": "quantitative", "scale": {"domain": [0, 60], "nice": false, "zero": false}, "axis": null},
            "text": {"field": "strain"}
          }
        },
        {
          "data": {"name": "highlight"},
          "transform": [{"filter": "datum.strain == 'CIT'"}],
          "mark": {"type": "text", "fontSize": 17, "align": "center", "baseline": "middle", "dx": -39, "dy": 2},
          "encoding": {
            "x": {"field": "orfs", "type": "quantitative", "scale": {"domain": [0, 300], "nice": false, "zero": false}, "axis": null},
            "y": {"field": "pct", "type": "quantitative", "scale": {"domain": [0, 60], "nice": false, "zero": false}, "axis": null},
            "text": {"field": "strain"}
          }
        },
        {
          "data": {"values": [{"panel": "b"}]},
          "mark": {"type": "text", "fontSize": 31, "align": "left", "baseline": "alphabetic"},
          "encoding": {
            "x": {"datum": -68, "type": "quantitative", "scale": {"domain": [0, 300], "nice": false, "zero": false}, "axis": null},
            "y": {"datum": 60.06, "type": "quantitative", "scale": {"domain": [0, 60], "nice": false, "zero": false}, "axis": null},
            "text": {"field": "panel"}
          }
        },
        {
          "data": {"values": [{"t": "Percentage of"}]},
          "mark": {"type": "text", "fontSize": 24.5, "angle": 270, "align": "left", "baseline": "middle"},
          "encoding": {
            "x": {"datum": -68.5, "type": "quantitative", "scale": {"domain": [0, 300], "nice": false, "zero": false}, "axis": null},
            "y": {"datum": 2.29, "type": "quantitative", "scale": {"domain": [0, 60], "nice": false, "zero": false}, "axis": null},
            "text": {"field": "t"}
          }
        },
        {
          "data": {"values": [{"t": "S. paradoxus"}]},
          "mark": {"type": "text", "fontSize": 24.5, "fontStyle": "italic", "angle": 270, "align": "left", "baseline": "middle"},
          "encoding": {
            "x": {"datum": -68.5, "type": "quantitative", "scale": {"domain": [0, 300], "nice": false, "zero": false}, "axis": null},
            "y": {"datum": 22.0, "type": "quantitative", "scale": {"domain": [0, 60], "nice": false, "zero": false}, "axis": null},
            "text": {"field": "t"}
          }
        },
        {
          "data": {"values": [{"t": "markers"}]},
          "mark": {"type": "text", "fontSize": 24.5, "angle": 270, "align": "left", "baseline": "middle"},
          "encoding": {
            "x": {"datum": -68.5, "type": "quantitative", "scale": {"domain": [0, 300], "nice": false, "zero": false}, "axis": null},
            "y": {"datum": 40.7, "type": "quantitative", "scale": {"domain": [0, 60], "nice": false, "zero": false}, "axis": null},
            "text": {"field": "t"}
          }
        },
        {
          "data": {"values": [{"t": "in mitochondrial genome (N=110)"}]},
          "mark": {"type": "text", "fontSize": 24.5, "angle": 270, "align": "center", "baseline": "middle"},
          "encoding": {
            "x": {"datum": -51.1, "type": "quantitative", "scale": {"domain": [0, 300], "nice": false, "zero": false}, "axis": null},
            "y": {"datum": 27.1, "type": "quantitative", "scale": {"domain": [0, 60], "nice": false, "zero": false}, "axis": null},
            "text": {"field": "t"}
          }
        }
      ]
    }
  ]
}
